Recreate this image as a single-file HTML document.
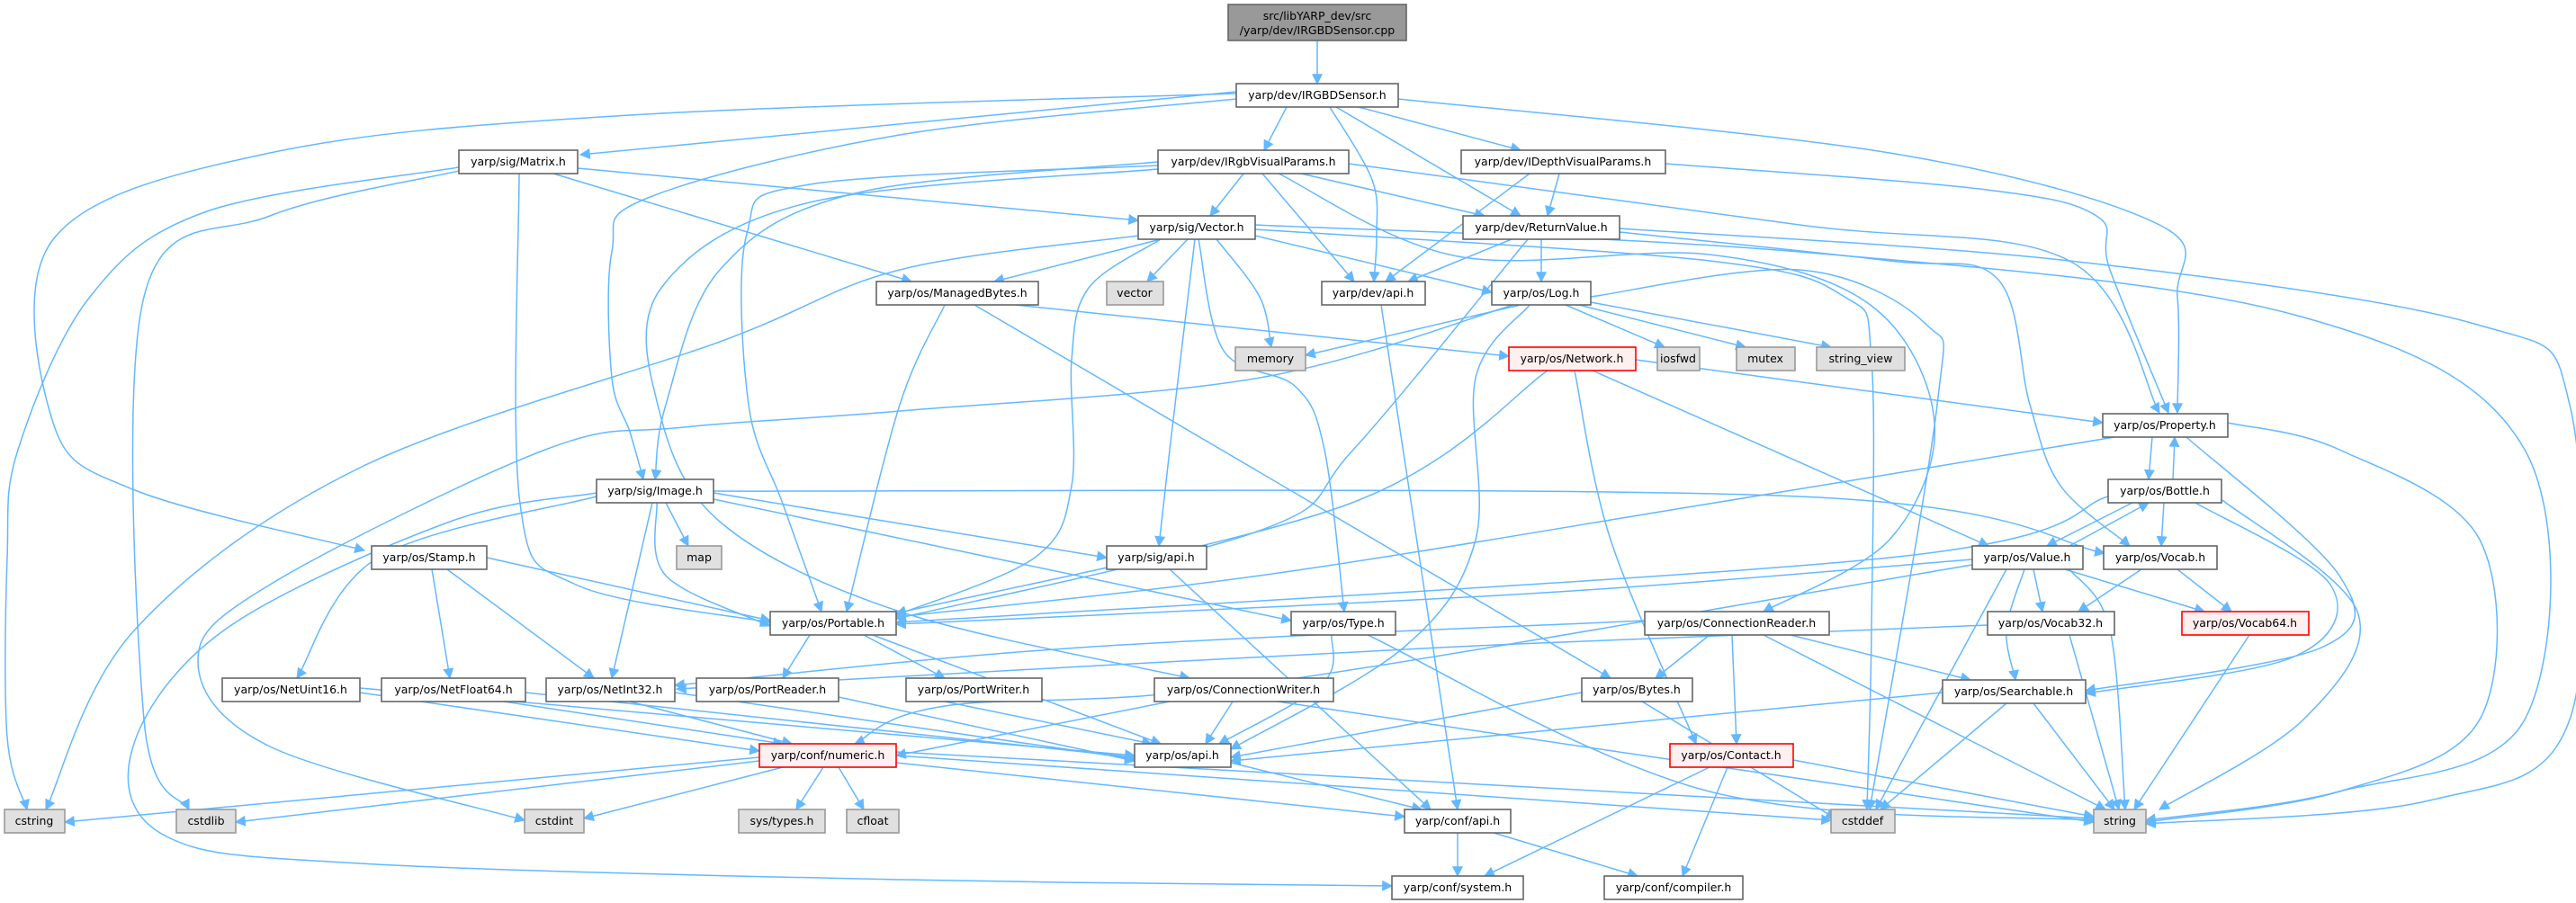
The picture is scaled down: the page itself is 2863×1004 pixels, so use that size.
<!DOCTYPE html>
<html><head><meta charset="utf-8"><style>
html,body{margin:0;padding:0;background:#fff;}
svg{display:block;}
</style></head><body>
<svg id="g" width="2863" height="1004" viewBox="0 0 2863 1004" xmlns="http://www.w3.org/2000/svg">
<defs><marker id="a" viewBox="0 0 10 10" refX="9" refY="5" markerWidth="13" markerHeight="12" markerUnits="userSpaceOnUse" orient="auto"><path d="M0,0 L10,5 L0,10z" fill="#63b8ff"/></marker></defs>
<g id="edges" fill="none" stroke="#63b8ff" stroke-width="1.5"></g>
<g id="nodes" stroke-width="1.6">
<rect x="1365" y="5" width="198" height="40" fill="#999999" stroke="#666"/>
</g>
</svg>
<script>
var N={
irgbd:[1374,1554,93,"yarp/dev/IRGBDSensor.h"],
matrix:[510,642,167,"yarp/sig/Matrix.h"],
rgbvp:[1287,1499,167,"yarp/dev/IRgbVisualParams.h"],
depthvp:[1624,1851,167,"yarp/dev/IDepthVisualParams.h"],
vector:[1265,1395,240,"yarp/sig/Vector.h"],
retval:[1626,1800,240,"yarp/dev/ReturnValue.h"],
mbytes:[974,1154,313,"yarp/os/ManagedBytes.h"],
vec:[1230,1293,313,"vector","g"],
devapi:[1469,1584,313,"yarp/dev/api.h"],
log:[1658,1768,313,"yarp/os/Log.h"],
memory:[1373,1451,386,"memory","g"],
network:[1677,1818,386,"yarp/os/Network.h","r"],
iosfwd:[1842,1889,386,"iosfwd","g"],
mutex:[1930,1995,386,"mutex","g"],
sview:[2019,2117,386,"string_view","g"],
property:[2337,2476,460,"yarp/os/Property.h"],
image:[663,793,533,"yarp/sig/Image.h"],
bottle:[2343,2469,533,"yarp/os/Bottle.h"],
stamp:[413,541,607,"yarp/os/Stamp.h"],
map:[752,802,607,"map","g"],
sigapi:[1230,1341,607,"yarp/sig/api.h"],
value:[2192,2315,607,"yarp/os/Value.h"],
vocab:[2338,2464,607,"yarp/os/Vocab.h"],
portable:[856,996,680,"yarp/os/Portable.h"],
type:[1435,1551,680,"yarp/os/Type.h"],
creader:[1828,2033,680,"yarp/os/ConnectionReader.h"],
vocab32:[2209,2350,680,"yarp/os/Vocab32.h"],
vocab64:[2425,2566,680,"yarp/os/Vocab64.h","r"],
netu16:[247,400,754,"yarp/os/NetUint16.h"],
netf64:[424,584,754,"yarp/os/NetFloat64.h"],
neti32:[607,750,754,"yarp/os/NetInt32.h"],
preader:[774,932,754,"yarp/os/PortReader.h"],
pwriter:[1007,1158,754,"yarp/os/PortWriter.h"],
cwriter:[1283,1482,754,"yarp/os/ConnectionWriter.h"],
bytes:[1758,1881,754,"yarp/os/Bytes.h"],
searchable:[2159,2318,756,"yarp/os/Searchable.h"],
numeric:[844,996,827,"yarp/conf/numeric.h","r"],
osapi:[1261,1368,827,"yarp/os/api.h"],
contact:[1856,1993,827,"yarp/os/Contact.h","r"],
cstring:[5,72,900,"cstring","g"],
cstdlib:[196,262,900,"cstdlib","g"],
cstdint:[583,649,900,"cstdint","g"],
systypes:[821,917,900,"sys/types.h","g"],
cfloat:[941,999,900,"cfloat","g"],
confapi:[1561,1679,900,"yarp/conf/api.h"],
cstddef:[2035,2106,900,"cstddef","g"],
string:[2327,2385,900,"string","g"],
system:[1547,1693,974,"yarp/conf/system.h"],
compiler:[1783,1937,974,"yarp/conf/compiler.h"]
};
var H=26;
var E=[
[[1464,45],[1464,93]],
[[1374,102],[645,172]],
[[1374,104],[700,128],[300,170],[60,265],[59,470],[150,545],[405,612]],
[[1374,110],[1000,150],[720,220],[680,280],[680,420],[700,480],[715,533]],
[[1430,119],[1405,167]],
[[1478,119],[1525,200],[1530,260],[1527,313]],
[[1485,119],[1690,240]],
[[1510,119],[1690,167]],
[[1554,110],[2100,170],[2400,250],[2420,330],[2420,459]],
[[510,186],[230,235],[100,330],[20,500],[8,620],[8,820],[30,900]],
[[510,190],[300,240],[160,330],[160,800],[210,900]],
[[577,193],[578,560],[640,650],[856,692]],
[[615,193],[1013,313]],
[[642,187],[1265,245]],
[[1382,193],[1345,240]],
[[1403,193],[1505,313]],
[[1446,193],[1650,240]],
[[1287,180],[950,215],[800,300],[740,450],[728,533]],
[[1287,184],[900,205],[830,260],[832,450],[870,560],[913,680]],
[[1499,182],[2000,250],[2300,290],[2400,459]],
[[1421,193],[1620,285],[1900,283],[2080,340],[2150,470],[2100,600],[1960,680]],
[[1287,188],[900,225],[735,320],[731,450],[800,580],[1000,680],[1322,754]],
[[1700,193],[1540,313]],
[[1733,193],[1720,240]],
[[1851,182],[2200,210],[2330,240],[2345,300],[2410,459]],
[[1290,266],[1105,313]],
[[1320,266],[1275,313]],
[[1352,266],[1400,330],[1413,386]],
[[1332,266],[1360,390],[1440,430],[1472,500],[1494,680]],
[[1328,266],[1300,500],[1288,607]],
[[1290,266],[1210,320],[1191,400],[1191,540],[1150,620],[996,684]],
[[1265,262],[1000,300],[800,380],[400,520],[150,700],[51,900]],
[[1395,262],[1658,325]],
[[1395,255],[1900,290],[2050,330],[2080,400],[2080,700],[2075,900]],
[[1395,250],[2000,280],[2550,350],[2806,500],[2806,800],[2600,880],[2385,912]],
[[1680,266],[1565,313]],
[[1713,266],[1713,313]],
[[1698,266],[1504,500],[1400,590],[996,688]],
[[1800,258],[2100,290],[2220,310],[2256,450],[2290,540],[2367,607]],
[[1800,254],[2300,290],[2750,360],[2856,450],[2856,800],[2700,890],[2385,916]],
[[1128,339],[1677,396]],
[[1050,339],[1000,450],[941,680]],
[[1083,339],[1790,754]],
[[1535,339],[1620,900]],
[[1690,339],[1451,395]],
[[1740,339],[1850,386]],
[[1755,339],[1940,386]],
[[1768,336],[2035,386]],
[[1700,339],[1640,420],[1640,600],[1560,720],[1368,833]],
[[1682,339],[1400,420],[1000,457],[760,475],[606,500],[300,650],[220,735],[300,830],[583,912]],
[[1768,330],[2000,300],[2140,360],[2153,450],[2078,900]],
[[1818,400],[2337,470]],
[[1720,412],[1500,560],[996,682]],
[[1770,412],[2210,607]],
[[1750,412],[1790,600],[1885,827]],
[[2350,486],[1900,560],[1400,640],[996,686]],
[[2392,486],[2388,533]],
[[2415,533],[2417,486]],
[[2476,470],[2600,500],[2756,600],[2756,800],[2600,880],[2385,914]],
[[2430,486],[2600,640],[2580,720],[2318,768]],
[[2370,559],[2275,607]],
[[2405,559],[2402,607]],
[[2343,552],[2100,620],[996,692]],
[[2440,559],[2590,650],[2550,730],[2318,771]],
[[2470,556],[2620,680],[2560,800],[2400,900]],
[[2300,607],[2388,559]],
[[2260,633],[2270,680]],
[[2295,633],[2450,680]],
[[2250,633],[2230,700],[2240,756]],
[[2192,622],[1700,660],[996,694]],
[[2300,633],[2345,700],[2362,900]],
[[2230,633],[2085,900]],
[[2192,628],[1400,760],[1050,785],[950,827]],
[[2380,633],[2310,680]],
[[2420,633],[2480,680]],
[[1300,633],[1590,900]],
[[900,706],[870,754]],
[[960,706],[1050,754]],
[[970,706],[1290,827]],
[[1480,706],[1470,760],[1355,827]],
[[1520,706],[1900,880],[2327,912]],
[[1828,690],[1200,720],[750,762]],
[[1900,706],[1840,754]],
[[1925,706],[1930,827]],
[[1990,706],[2190,756]],
[[1960,706],[2340,900]],
[[2209,695],[1600,720],[752,766]],
[[2300,706],[2355,900]],
[[2500,706],[2372,900]],
[[400,770],[844,835]],
[[400,765],[1261,840]],
[[560,780],[870,827]],
[[584,770],[1261,842]],
[[700,780],[880,827]],
[[750,770],[1261,844]],
[[932,775],[1261,846]],
[[1050,780],[1280,827]],
[[1300,780],[996,840]],
[[1370,780],[1340,827]],
[[1420,780],[2327,914]],
[[1758,770],[1368,842]],
[[1825,780],[2040,910]],
[[2159,770],[1368,846]],
[[2230,782],[2090,900]],
[[2260,782],[2350,900]],
[[844,842],[72,914]],
[[844,846],[262,914]],
[[870,853],[649,910]],
[[915,853],[885,900]],
[[932,853],[960,900]],
[[996,848],[1561,908]],
[[996,840],[2035,912]],
[[996,836],[2327,910]],
[[1368,848],[1580,900]],
[[1900,853],[1650,974]],
[[1920,853],[1870,974]],
[[1993,845],[2327,908]],
[[1620,926],[1620,974]],
[[1660,926],[1820,974]],
[[541,620],[856,690]],
[[497,633],[660,754]],
[[480,633],[500,754]],
[[740,559],[765,607]],
[[793,548],[1230,620]],
[[730,559],[740,640],[856,696]],
[[725,559],[680,754]],
[[663,552],[420,620],[330,754]],
[[793,555],[1435,690]],
[[793,546],[2000,552],[2339,615]],
[[663,548],[500,580],[250,700],[147,833],[185,930],[400,960],[1000,978],[1547,985]]
];
var ns="http://www.w3.org/2000/svg",eg=document.getElementById("edges");
function P(p){var d="M"+p[0][0]+","+p[0][1];if(p.length==2)return d+"L"+p[1][0]+","+p[1][1];
for(var i=0;i<p.length-1;i++){var p0=p[i-1]||p[i],p1=p[i],p2=p[i+1],p3=p[i+2]||p2;
d+="C"+(p1[0]+(p2[0]-p0[0])/6)+","+(p1[1]+(p2[1]-p0[1])/6)+" "+(p2[0]-(p3[0]-p1[0])/6)+","+(p2[1]-(p3[1]-p1[1])/6)+" "+p2[0]+","+p2[1];}return d;}
E.forEach(function(e){var q=document.createElementNS(ns,"path");q.setAttribute("d",P(e));q.setAttribute("marker-end","url(#a)");eg.appendChild(q);});
(function(){var g=document.getElementById("nodes");
for(var k in N){var n=N[k],r=document.createElementNS(ns,"rect"),w=n[1]-n[0];
r.setAttribute("x",n[0]);r.setAttribute("y",n[2]);r.setAttribute("width",w);r.setAttribute("height",H);
var f="#fff",s="#666";if(n[4]=="g"){f="#e0e0e0";s="#999";}if(n[4]=="r"){f="#fff0f0";s="#ff0000";}
r.setAttribute("fill",f);r.setAttribute("stroke",s);g.appendChild(r);}})();
</script>
<svg style="position:absolute;left:0;top:0" width="2863" height="1004" viewBox="0 0 2863 1004">
<style>text{font-family:"DejaVu Sans","Liberation Sans",sans-serif;font-size:12.5px;fill:#000;text-anchor:middle}</style>
<text x="1464" y="22">src/libYARP_dev/src</text>
<text x="1464" y="38">/yarp/dev/IRGBDSensor.cpp</text>
<text x="1464" y="110">yarp/dev/IRGBDSensor.h</text>
<text x="576" y="184">yarp/sig/Matrix.h</text>
<text x="1393" y="184">yarp/dev/IRgbVisualParams.h</text>
<text x="1737" y="184">yarp/dev/IDepthVisualParams.h</text>
<text x="1330" y="257">yarp/sig/Vector.h</text>
<text x="1713" y="257">yarp/dev/ReturnValue.h</text>
<text x="1064" y="330">yarp/os/ManagedBytes.h</text>
<text x="1261" y="330">vector</text>
<text x="1526" y="330">yarp/dev/api.h</text>
<text x="1713" y="330">yarp/os/Log.h</text>
<text x="1412" y="403">memory</text>
<text x="1747" y="403">yarp/os/Network.h</text>
<text x="1865" y="403">iosfwd</text>
<text x="1962" y="403">mutex</text>
<text x="2068" y="403">string_view</text>
<text x="2406" y="477">yarp/os/Property.h</text>
<text x="728" y="550">yarp/sig/Image.h</text>
<text x="2406" y="550">yarp/os/Bottle.h</text>
<text x="477" y="624">yarp/os/Stamp.h</text>
<text x="777" y="624">map</text>
<text x="1285" y="624">yarp/sig/api.h</text>
<text x="2253" y="624">yarp/os/Value.h</text>
<text x="2401" y="624">yarp/os/Vocab.h</text>
<text x="926" y="697">yarp/os/Portable.h</text>
<text x="1493" y="697">yarp/os/Type.h</text>
<text x="1930" y="697">yarp/os/ConnectionReader.h</text>
<text x="2279" y="697">yarp/os/Vocab32.h</text>
<text x="2495" y="697">yarp/os/Vocab64.h</text>
<text x="323" y="771">yarp/os/NetUint16.h</text>
<text x="504" y="771">yarp/os/NetFloat64.h</text>
<text x="678" y="771">yarp/os/NetInt32.h</text>
<text x="853" y="771">yarp/os/PortReader.h</text>
<text x="1082" y="771">yarp/os/PortWriter.h</text>
<text x="1382" y="771">yarp/os/ConnectionWriter.h</text>
<text x="1819" y="771">yarp/os/Bytes.h</text>
<text x="2238" y="773">yarp/os/Searchable.h</text>
<text x="920" y="844">yarp/conf/numeric.h</text>
<text x="1314" y="844">yarp/os/api.h</text>
<text x="1924" y="844">yarp/os/Contact.h</text>
<text x="38" y="917">cstring</text>
<text x="229" y="917">cstdlib</text>
<text x="616" y="917">cstdint</text>
<text x="869" y="917">sys/types.h</text>
<text x="970" y="917">cfloat</text>
<text x="1620" y="917">yarp/conf/api.h</text>
<text x="2070" y="917">cstddef</text>
<text x="2356" y="917">string</text>
<text x="1620" y="991">yarp/conf/system.h</text>
<text x="1860" y="991">yarp/conf/compiler.h</text>
</svg>
</body></html>
